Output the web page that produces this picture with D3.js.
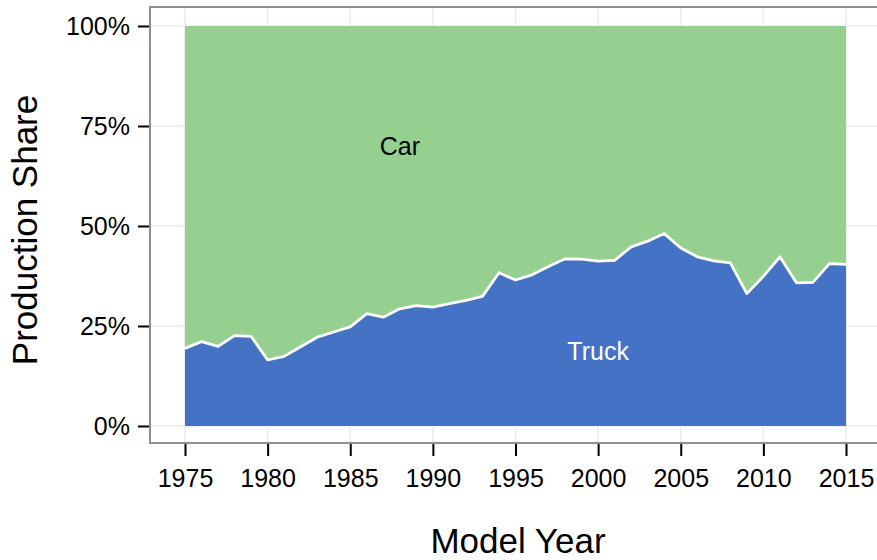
<!DOCTYPE html>
<html>
<head>
<meta charset="utf-8">
<script src="https://cdn.jsdelivr.net/npm/d3@7"></script>
<style>
  body { margin: 0; background: #fff; }
  text { font-family: "Liberation Sans", Arial, sans-serif; }
</style>
</head>
<body>
<div id="chart"></div>
<script>
// data (percent of production)
var years = d3.range(1975, 2016);
var truckShare = [19.4, 21.1, 19.9, 22.6, 22.4, 16.5, 17.4, 19.8, 22.2, 23.5,
                  24.8, 28.1, 27.2, 29.3, 30.1, 29.7, 30.6, 31.4, 32.4, 38.3,
                  36.5, 37.8, 39.9, 41.8, 41.7, 41.2, 41.4, 44.8, 46.2, 48.1,
                  44.5, 42.3, 41.3, 40.8, 33.1, 37.4, 42.3, 35.8, 35.9, 40.6, 40.4];
var carShare = truckShare.map(function(v) { return 100 - v; });
var seriesNames = ["Truck", "Car"];
var seriesColors = ["#4472c4", "#95d090"];
var yTicks = [0, 25, 50, 75, 100];
var xTicks = [1975, 1980, 1985, 1990, 1995, 2000, 2005, 2010, 2015];
var areaLabels = [
  {name: "Car", year: 1988, share: 70, color: "#000"},
  {name: "Truck", year: 2000, share: 18.7, color: "#fff"}
];

var W = 877, H = 560;
var panel = {left: 150, right: 880, top: 7, bottom: 443};

var rows = years.map(function(y, i) {
  return {year: y, Truck: truckShare[i], Car: carShare[i]};
});

var svg = d3.select("#chart").append("svg")
    .attr("width", W)
    .attr("height", H);

var x = d3.scaleLinear().domain([1975, 2015]).range([185, 846]);
var y = d3.scaleLinear().domain([0, 100]).range([426, 26]);

// grid
var grid = svg.append("g");
grid.selectAll("line.h").data(yTicks).enter().append("line")
    .attr("x1", panel.left).attr("x2", panel.right)
    .attr("y1", function(d) { return y(d); }).attr("y2", function(d) { return y(d); })
    .style("stroke", "#ebebeb").style("stroke-width", 1.5);
grid.selectAll("line.v").data(xTicks).enter().append("line")
    .attr("y1", panel.top).attr("y2", panel.bottom)
    .attr("x1", function(d) { return x(d); }).attr("x2", function(d) { return x(d); })
    .style("stroke", "#ebebeb").style("stroke-width", 1.5);

// stacked areas
var stack = d3.stack().keys(seriesNames);
var layers = stack(rows);
var area = d3.area()
    .x(function(d) { return x(d.data.year); })
    .y0(function(d) { return y(d[0]); })
    .y1(function(d) { return y(d[1]); });

svg.append("g").selectAll("path")
    .data(layers)
    .enter().append("path")
    .attr("d", area)
    .style("fill", function(d, i) { return seriesColors[i]; });

// white boundary line between the two areas
var boundary = d3.line()
    .x(function(d) { return x(d.data.year); })
    .y(function(d) { return y(d[1]); });
svg.append("path")
    .datum(layers[0])
    .attr("d", boundary)
    .style("fill", "none")
    .style("stroke", "#fff")
    .style("stroke-width", 2.8)
    .style("stroke-linejoin", "round");

// area labels
svg.selectAll("text.lab").data(areaLabels).enter().append("text")
    .attr("x", function(d) { return x(d.year); })
    .attr("y", function(d) { return y(d.share); })
    .attr("text-anchor", "middle")
    .attr("dy", "0.35em")
    .style("font-size", "25px")
    .style("fill", function(d) { return d.color; })
    .text(function(d) { return d.name; });

// panel border
svg.append("rect")
    .attr("x", panel.left).attr("y", panel.top)
    .attr("width", panel.right - panel.left)
    .attr("height", panel.bottom - panel.top)
    .style("fill", "none")
    .style("stroke", "#8f8f8f")
    .style("stroke-width", 2);

// axes
var yAxis = svg.append("g")
    .attr("transform", "translate(" + (panel.left - 1) + ",0)")
    .call(d3.axisLeft(y).tickValues(yTicks)
      .tickFormat(function(d) { return d + "%"; })
      .tickSize(11).tickPadding(8));
var xAxis = svg.append("g")
    .attr("transform", "translate(0," + (panel.bottom + 1) + ")")
    .call(d3.axisBottom(x).tickValues(xTicks)
      .tickFormat(d3.format("d"))
      .tickSize(12).tickPadding(13));

[yAxis, xAxis].forEach(function(a) {
  a.select(".domain").remove();
  a.selectAll(".tick line").style("stroke", "#000").style("stroke-width", 2);
  a.selectAll(".tick text")
    .style("font-size", "25px")
    .style("fill", "#000")
    .style("font-family", "'Liberation Sans', Arial, sans-serif");
});

// titles
svg.append("text")
    .attr("x", (panel.left + panel.right) / 2 + 3)
    .attr("y", 553)
    .attr("text-anchor", "middle")
    .style("font-size", "35px")
    .text("Model Year");
svg.append("text")
    .attr("transform", "translate(37," + ((panel.top + panel.bottom) / 2 + 5) + ") rotate(-90)")
    .attr("text-anchor", "middle")
    .style("font-size", "35px")
    .text("Production Share");
</script>
</body>
</html>
